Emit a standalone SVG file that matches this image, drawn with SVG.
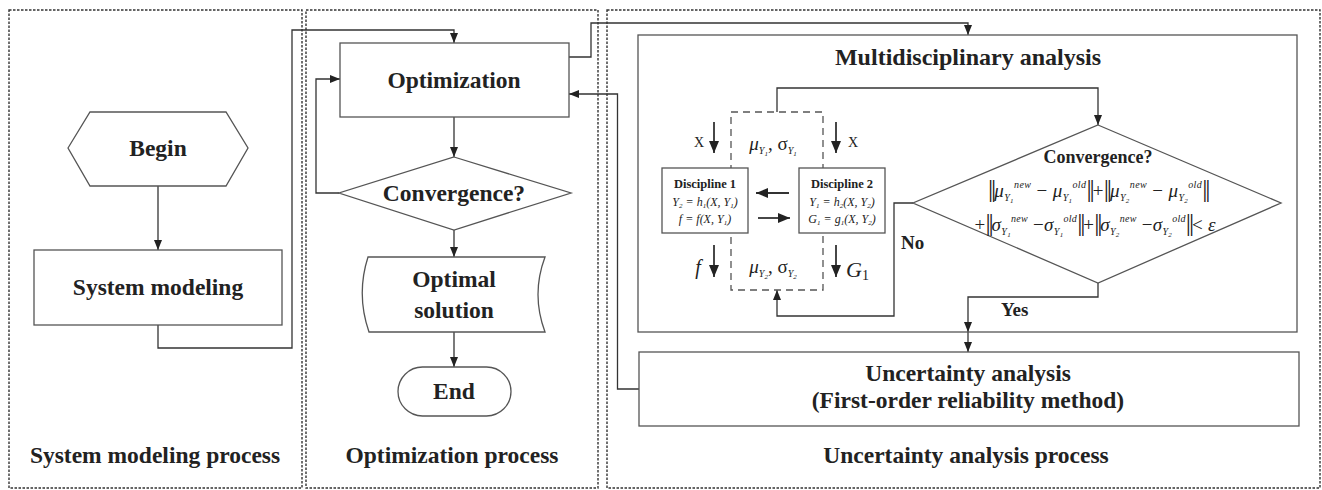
<svg xmlns="http://www.w3.org/2000/svg" width="1322" height="490" viewBox="0 0 1322 490">
<style>
.panel{fill:none;stroke:#333;stroke-width:1.4;stroke-dasharray:2.5 1.5}
.node{fill:#fff;stroke:#555;stroke-width:1.3}
.con{fill:none;stroke:#333;stroke-width:1.3}
.bold{stroke-width:1.8}
.dash{fill:none;stroke:#555;stroke-width:1.3;stroke-dasharray:7 5}
.t{font-family:"Liberation Serif","Times New Roman",serif;font-weight:bold;fill:#222;text-anchor:middle}
.lg{font-size:23.5px}
.md{font-size:18px}
.sm{font-size:12.5px}
.it{font-family:"Liberation Serif","Times New Roman",serif;font-style:italic;fill:#222}
.fm{font-family:"Liberation Serif","Times New Roman",serif;font-style:italic;fill:#222;font-size:19px}
.bar{font-style:normal;font-size:26px;letter-spacing:-2.5px}
.sb{font-size:10px}
.ss{font-size:7px}
.sp{font-size:10px}
.up{font-style:normal}
</style>
<defs>
<marker id="ah" markerUnits="userSpaceOnUse" markerWidth="10" markerHeight="8" refX="10" refY="4" orient="auto">
<path d="M0,0 L10,4 L0,8 Z" fill="#222"/>
</marker>
<marker id="ahb" markerUnits="userSpaceOnUse" markerWidth="12" markerHeight="10" refX="12" refY="5" orient="auto">
<path d="M0,0 L12,5 L0,10 Z" fill="#222"/>
</marker>
</defs>

<g id="panels">
<rect class="panel" x="9" y="10" width="293" height="478"/>
<rect class="panel" x="306" y="10" width="292" height="478"/>
<rect class="panel" x="607" y="10" width="713" height="478"/>
<text class="t lg" x="155" y="463">System modeling process</text>
<text class="t lg" x="452" y="463">Optimization process</text>
<text class="t lg" x="966" y="463">Uncertainty analysis process</text>
</g>

<g id="connectors">
<path class="con" d="M158,186 V250" marker-end="url(#ah)"/>
<path class="con" d="M158,325 V348 H292 V30 H454 V43" marker-end="url(#ah)"/>
<path class="con" d="M454,117 V157" marker-end="url(#ah)"/>
<path class="con" d="M339,193 H316 V79 H340" marker-end="url(#ah)"/>
<path class="con" d="M454,230 V257" marker-end="url(#ah)"/>
<path class="con" d="M454,332 V367" marker-end="url(#ah)"/>
<path class="con" d="M569,57 H591 V23 H968 V35" marker-end="url(#ah)"/>
<path class="con" d="M639,389 H617.5 V94 H569" marker-end="url(#ah)"/>
<path class="con" d="M1098,283 V297 H968 V332" marker-end="url(#ah)"/>
<path class="con" d="M968,332 V352" marker-end="url(#ah)"/>
<path class="con" d="M777,112 V88 H1098 V125" marker-end="url(#ah)"/>
<path class="con" d="M913,203 H894 V316 H777 V290" marker-end="url(#ah)"/>
<path class="con bold" d="M714,122 V153" marker-end="url(#ahb)"/>
<path class="con bold" d="M836,122 V153" marker-end="url(#ahb)"/>
<path class="con bold" d="M714,245 V277" marker-end="url(#ahb)"/>
<path class="con bold" d="M836,245 V277" marker-end="url(#ahb)"/>
<path class="con bold" d="M789,193 H756" marker-end="url(#ahb)"/>
<path class="con bold" d="M758,218 H790" marker-end="url(#ahb)"/>
</g>

<g id="begin">
<polygon class="node" points="68,148 90,112 226,112 248,148 226,186 90,186"/>
<text class="t lg" x="158" y="156">Begin</text>
</g>

<g id="system-modeling">
<rect class="node" x="34" y="250" width="248" height="75"/>
<text class="t lg" x="158" y="295">System modeling</text>
</g>

<g id="optimization">
<rect class="node" x="340" y="43" width="229" height="74"/>
<text class="t lg" x="454" y="88">Optimization</text>
</g>

<g id="opt-convergence">
<polygon class="node" points="454,157 571,193 454,230 339,193"/>
<text class="t lg" x="454" y="201">Convergence?</text>
</g>

<g id="optimal-solution">
<path class="node" d="M368,257 H545 Q531,294.5 545,332 H369 Q356,294.5 368,257 Z"/>
<text class="t lg" x="454" y="287">Optimal</text>
<text class="t lg" x="454" y="318">solution</text>
</g>

<g id="end">
<rect class="node" x="398" y="367" width="113" height="49" rx="24.5"/>
<text class="t lg" x="454" y="399">End</text>
</g>

<g id="multidisciplinary-analysis">
<rect class="node" x="638" y="35" width="659" height="297" style="fill:none"/>
<text class="t" style="font-size:24px" x="968" y="65">Multidisciplinary analysis</text>
</g>

<g id="coupling">
<rect class="dash" x="731" y="112" width="92" height="178"/>
<text class="fm" x="773" y="150" text-anchor="middle"><tspan>μ</tspan><tspan class="sb" dy="4">Y</tspan><tspan class="ss" dy="2">1</tspan><tspan dy="-6" class="up">, σ</tspan><tspan class="sb" dy="4">Y</tspan><tspan class="ss" dy="2">1</tspan></text>
<text class="fm" x="773" y="273" text-anchor="middle"><tspan>μ</tspan><tspan class="sb" dy="4">Y</tspan><tspan class="ss" dy="2">2</tspan><tspan dy="-6" class="up">, σ</tspan><tspan class="sb" dy="4">Y</tspan><tspan class="ss" dy="2">2</tspan></text>
<text class="t" style="font-size:14px;font-weight:normal" x="699" y="147">X</text>
<text class="t" style="font-size:14px;font-weight:normal" x="853" y="147">X</text>
<text class="it" style="font-size:20px" x="698" y="274" text-anchor="middle">f</text>
<text class="it" style="font-size:22px" x="846" y="277">G<tspan style="font-size:14px;font-style:normal" dy="3">1</tspan></text>
</g>

<g id="discipline-1">
<rect class="node" x="662" y="168" width="86" height="65"/>
<text class="t sm" x="705" y="188">Discipline 1</text>
<text class="it" style="font-size:12px" x="705" y="206" text-anchor="middle">Y<tspan style="font-size:7px" dy="2">2</tspan><tspan dy="-2"> = h</tspan><tspan style="font-size:7px" dy="2">1</tspan><tspan dy="-2">(X, Y</tspan><tspan style="font-size:7px" dy="2">1</tspan><tspan dy="-2">)</tspan></text>
<text class="it" style="font-size:12px" x="705" y="223" text-anchor="middle">f = f(X, Y<tspan style="font-size:7px" dy="2">1</tspan><tspan dy="-2">)</tspan></text>
</g>

<g id="discipline-2">
<rect class="node" x="799" y="168" width="86" height="65"/>
<text class="t sm" x="842" y="188">Discipline 2</text>
<text class="it" style="font-size:12px" x="842" y="206" text-anchor="middle">Y<tspan style="font-size:7px" dy="2">1</tspan><tspan dy="-2"> = h</tspan><tspan style="font-size:7px" dy="2">2</tspan><tspan dy="-2">(X, Y</tspan><tspan style="font-size:7px" dy="2">2</tspan><tspan dy="-2">)</tspan></text>
<text class="it" style="font-size:12px" x="842" y="223" text-anchor="middle">G<tspan style="font-size:7px" dy="2">1</tspan><tspan dy="-2"> = g</tspan><tspan style="font-size:7px" dy="2">1</tspan><tspan dy="-2">(X, Y</tspan><tspan style="font-size:7px" dy="2">2</tspan><tspan dy="-2">)</tspan></text>
</g>

<g id="mda-convergence">
<polygon class="node" points="1098,125 1281,203 1098,283 913,203"/>
<text class="t md" x="1098" y="163">Convergence?</text>
<text class="fm" x="1098" y="197" text-anchor="middle" textLength="220" lengthAdjust="spacing"><tspan class="bar">||</tspan><tspan>μ</tspan><tspan class="sb" dy="4">Y</tspan><tspan class="ss" dy="2">1</tspan><tspan class="sp" dy="-15">new</tspan><tspan dy="9" class="up"> − </tspan><tspan>μ</tspan><tspan class="sb" dy="4">Y</tspan><tspan class="ss" dy="2">1</tspan><tspan class="sp" dy="-15">old</tspan><tspan class="bar" dy="9">||</tspan><tspan class="up">+</tspan><tspan class="bar">||</tspan><tspan>μ</tspan><tspan class="sb" dy="4">Y</tspan><tspan class="ss" dy="2">2</tspan><tspan class="sp" dy="-15">new</tspan><tspan dy="9" class="up"> − </tspan><tspan>μ</tspan><tspan class="sb" dy="4">Y</tspan><tspan class="ss" dy="2">2</tspan><tspan class="sp" dy="-15">old</tspan><tspan class="bar" dy="9">||</tspan></text>
<text class="fm" x="1095" y="231" text-anchor="middle" textLength="241" lengthAdjust="spacing"><tspan class="up">+</tspan><tspan class="bar">||</tspan><tspan>σ</tspan><tspan class="sb" dy="4">Y</tspan><tspan class="ss" dy="2">1</tspan><tspan class="sp" dy="-15">new</tspan><tspan dy="9" class="up"> −</tspan><tspan>σ</tspan><tspan class="sb" dy="4">Y</tspan><tspan class="ss" dy="2">1</tspan><tspan class="sp" dy="-15">old</tspan><tspan class="bar" dy="9">||</tspan><tspan class="up">+</tspan><tspan class="bar">||</tspan><tspan>σ</tspan><tspan class="sb" dy="4">Y</tspan><tspan class="ss" dy="2">2</tspan><tspan class="sp" dy="-15">new</tspan><tspan dy="9" class="up"> −</tspan><tspan>σ</tspan><tspan class="sb" dy="4">Y</tspan><tspan class="ss" dy="2">2</tspan><tspan class="sp" dy="-15">old</tspan><tspan class="bar" dy="9">||</tspan><tspan class="up">&lt; </tspan><tspan>ε</tspan></text>
<text class="t" style="font-size:19px;text-anchor:start" x="901" y="249">No</text>
<text class="t" style="font-size:19px;text-anchor:start" x="1001" y="316">Yes</text>
</g>

<g id="uncertainty-analysis">
<rect class="node" x="639" y="352" width="660" height="74"/>
<text class="t lg" x="968" y="381">Uncertainty analysis</text>
<text class="t lg" x="968" y="408">(First-order reliability method)</text>
</g>
</svg>
